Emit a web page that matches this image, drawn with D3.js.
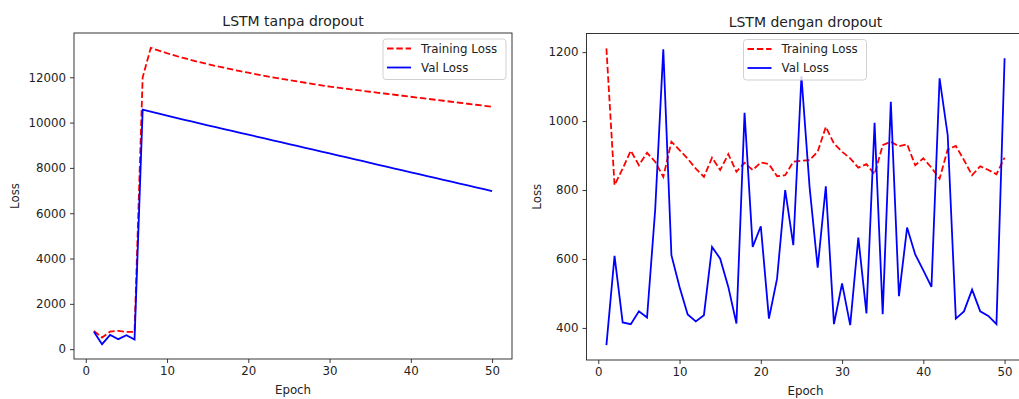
<!DOCTYPE html>
<html>
<head>
<meta charset="utf-8">
<script src="https://cdn.jsdelivr.net/npm/d3@7"></script>
<style>
  body { margin: 0; background: #fff; }
  svg { display: block; font-family: "DejaVu Sans", sans-serif; }
</style>
</head>
<body>
<svg id="chart" width="1019" height="399"></svg>
<script>
const epochs = d3.range(1, 51);

// LSTM tanpa dropout
const noDropTrain = [808, 513, 777, 808, 764, 764, 12000, 13300, 13175, 13060,
  12952, 12852, 12757, 12667, 12581, 12499, 12421, 12345, 12271, 12200,
  12131, 12064, 11999, 11936, 11875, 11816, 11758, 11701, 11645, 11590,
  11543, 11497, 11451, 11406, 11361, 11316, 11272, 11228, 11184, 11140,
  11096, 11052, 11008, 10964, 10920, 10876, 10832, 10788, 10744, 10700];
const noDropVal = [764, 220, 631, 441, 618, 424, 10570, 10480, 10392, 10305,
  10219, 10134, 10050, 9966, 9882, 9799, 9716, 9633, 9550, 9467,
  9384, 9301, 9218, 9135, 9052, 8969, 8886, 8803, 8720, 8637,
  8554, 8471, 8388, 8305, 8222, 8139, 8056, 7973, 7890, 7807,
  7724, 7641, 7558, 7475, 7392, 7309, 7226, 7143, 7060, 6977];

// LSTM dengan dropout
const dropTrain = [1211, 814, 862, 914, 872, 908, 882, 838, 940, 916,
  891, 862, 838, 894, 858, 904, 853, 879, 858, 880,
  875, 840, 843, 882, 885, 887, 911, 983, 935, 911,
  892, 865, 875, 846, 930, 940, 927, 933, 872, 892,
  865, 833, 918, 928, 887, 843, 869, 858, 846, 894];
const dropVal = [350, 609, 416, 411, 448, 430, 742, 1208, 611, 519,
  439, 419, 437, 635, 601, 519, 413, 1024, 635, 695,
  427, 543, 800, 640, 1130, 809, 575, 811, 411, 529,
  408, 662, 442, 995, 440, 1056, 492, 691, 613, 567,
  519, 1124, 959, 427, 448, 511, 448, 435, 411, 1182];

const xTicks = [0, 10, 20, 30, 40, 50];
const leftYTicks = [0, 2000, 4000, 6000, 8000, 10000, 12000];
const rightYTicks = [400, 600, 800, 1000, 1200];
const seriesNames = ["Training Loss", "Val Loss"];

const svg = d3.select("#chart");
const textColor = "#222";

// matplotlib style auto limits: 5% margin
function padded(ext) {
  const m = (ext[1] - ext[0]) * 0.05;
  return [ext[0] - m, ext[1] + m];
}

function drawPanel(opts) {
  const { left, top, width, height, train, val, yTicks, title, legendX, id } = opts;
  const g = svg.append("g").attr("transform", `translate(${left},${top})`);

  const x = d3.scaleLinear().domain(padded(d3.extent(epochs))).range([0, width]);
  const y = d3.scaleLinear().domain(padded(d3.extent(train.concat(val)))).range([height, 0]);

  g.append("clipPath").attr("id", "clip" + id)
    .append("rect").attr("width", width).attr("height", height);

  const line = d3.line().x((d, i) => x(epochs[i])).y(d => y(d));

  const plot = g.append("g").attr("clip-path", `url(#clip${id})`);
  plot.append("path").datum(train)
    .attr("d", line).attr("fill", "none")
    .attr("stroke", "#ff0000").attr("stroke-width", 1.8)
    .attr("stroke-dasharray", "6.5,2.8");
  plot.append("path").datum(val)
    .attr("d", line).attr("fill", "none")
    .attr("stroke", "#0000ff").attr("stroke-width", 1.8);

  // axes
  const fmt = d3.format("d");
  const xAxis = g.append("g").attr("transform", `translate(0,${height})`)
    .call(d3.axisBottom(x).tickValues(xTicks).tickFormat(fmt)
      .tickSize(4).tickPadding(4).tickSizeOuter(0));
  const yAxis = g.append("g")
    .call(d3.axisLeft(y).tickValues(yTicks).tickFormat(fmt)
      .tickSize(4).tickPadding(4).tickSizeOuter(0));
  [xAxis, yAxis].forEach(a => {
    a.select(".domain").remove();
    a.selectAll(".tick line").attr("stroke", textColor).attr("stroke-width", 0.9);
    a.selectAll(".tick text").attr("fill", textColor)
      .style("font-size", "11.8px").style("font-family", "DejaVu Sans");
  });

  g.append("rect").attr("width", width).attr("height", height)
    .attr("fill", "none").attr("stroke", "#222").attr("stroke-width", 0.9);

  g.append("text").attr("x", width / 2).attr("y", -7)
    .attr("text-anchor", "middle").attr("fill", textColor)
    .style("font-size", "14px").text(title);

  g.append("text").attr("x", width / 2).attr("y", height + 35)
    .attr("text-anchor", "middle").attr("fill", textColor)
    .style("font-size", "11.8px").text("Epoch");

  g.append("text")
    .attr("transform", `translate(${opts.ylabelX},${height / 2}) rotate(-90)`)
    .attr("text-anchor", "middle").attr("fill", textColor)
    .style("font-size", "11.8px").text("Loss");

  // legend
  const lg = g.append("g").attr("transform", `translate(${legendX},6)`);
  lg.append("rect").attr("width", 123).attr("height", 40.5).attr("rx", 3)
    .attr("fill", "#fff").attr("fill-opacity", 0.8)
    .attr("stroke", "#ccc").attr("stroke-width", 0.9);
  seriesNames.forEach((name, i) => {
    const yy = 9.5 + i * 19;
    lg.append("line").attr("x1", 4).attr("x2", 28).attr("y1", yy).attr("y2", yy)
      .attr("stroke", i === 0 ? "#ff0000" : "#0000ff").attr("stroke-width", 1.8)
      .attr("stroke-dasharray", i === 0 ? "6.5,2.8" : null);
    lg.append("text").attr("x", 38).attr("y", yy + 4.3)
      .attr("fill", textColor).style("font-size", "11.8px").text(name);
  });
}

drawPanel({
  id: "a", left: 74, top: 33, width: 438, height: 326,
  train: noDropTrain, val: noDropVal, yTicks: leftYTicks,
  title: "LSTM tanpa dropout", legendX: 309, ylabelX: -55
});
drawPanel({
  id: "b", left: 586.5, top: 33.5, width: 438, height: 326.5,
  train: dropTrain, val: dropVal, yTicks: rightYTicks,
  title: "LSTM dengan dropout", legendX: 157, ylabelX: -46
});
</script>
</body>
</html>
